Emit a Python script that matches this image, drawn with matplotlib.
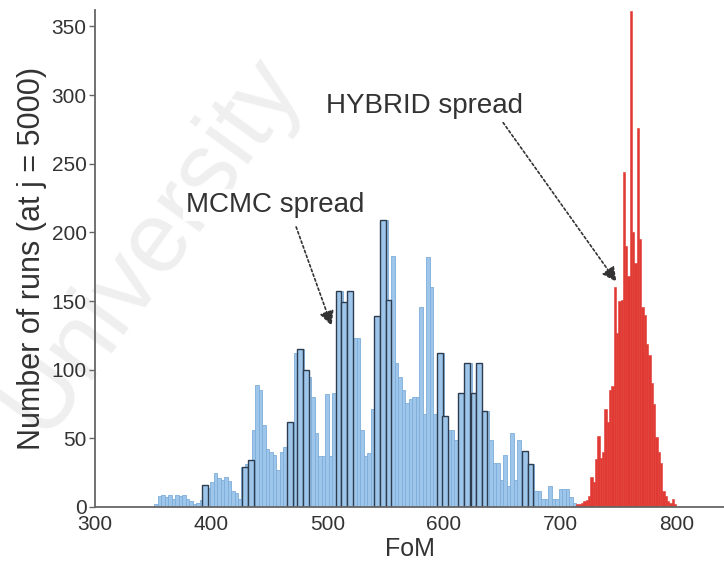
"""
Histogram of FoM for MCMC runs versus HYBRID runs (at j = 5000).
"""

import matplotlib
matplotlib.use("Agg")
import matplotlib.pyplot as plt
import numpy as np

plt.rcParams['font.family'] = ['Liberation Sans', 'DejaVu Sans']

#---------------------------------------
# Data
#---------------------------------------

# MCMC counts, 3-unit bins starting at FoM = 351
mcmc_start, mcmc_width = 351, 3
mcmc_counts = [
    2, 8, 9, 7, 9, 6, 9, 8, 9, 6,
    4, 2, 3, 5, 16, 14, 18, 25, 21, 20,
    22, 19, 12, 10, 6, 29, 31, 34, 56, 89,
    85, 60, 42, 40, 38, 27, 40, 44, 62, 62,
    112, 115, 115, 100, 95, 80, 54, 37, 37, 82,
    37, 83, 157, 157, 149, 149, 157, 123, 123, 56,
    37, 39, 71, 139, 139, 209, 209, 151, 183, 105,
    95, 85, 76, 79, 80, 80, 146, 68, 182, 160,
    68, 112, 112, 66, 56, 56, 49, 83, 83, 105,
    105, 83, 83, 105, 70, 70, 49, 32, 32, 20,
    38, 15, 54, 20, 49, 15, 41, 31, 31, 12,
    12, 6, 6, 15, 6, 6, 13, 13, 13, 7,
    3,
]

# coarser MCMC bins that show with a dark outline
outline_fom = [394.5, 429, 434, 467.5, 476.5, 481.5, 509.5, 514.5, 519.5,
               542.5, 548, 552.5, 596.5, 601, 614.5, 620, 625.5, 630.5,
               635, 669.5, 674.5]
outline_counts = [16, 29, 34, 62, 115, 100, 157, 149, 157,
                  139, 209, 151, 112, 66, 83, 105, 83, 105,
                  70, 41, 31]

# HYBRID counts, 2-unit bins starting at FoM = 712
hybrid_start, hybrid_width = 712, 2
hybrid_counts = [
    1, 2, 2, 3, 4, 5, 8, 22, 18, 35,
    52, 36, 40, 71, 62, 85, 88, 160, 127, 150,
    151, 244, 190, 168, 361, 200, 178, 276, 195, 146,
    140, 119, 111, 90, 75, 51, 40, 32, 12, 8,
    4, 3, 6, 2,
]

x_ticks = [300, 400, 500, 600, 700, 800]
y_ticks = [0, 50, 100, 150, 200, 250, 300, 350]

blue = [y/255 for y in (157, 198, 234)]
blue_edge = [y/255 for y in (125, 174, 218)]
dark = [y/255 for y in (45, 60, 78)]
red = [y/255 for y in (225, 58, 52)]

#------------------------------------------------------
# Plot
#------------------------------------------------------
fig = plt.figure(figsize=(7.24, 5.61), dpi=100)
ax = fig.add_axes([0.1312, 0.0963, 0.8688, 0.8859])
ax.patch.set_alpha(0)

mcmc_left = mcmc_start + mcmc_width * np.arange(len(mcmc_counts))
ax.bar(mcmc_left, mcmc_counts, width=mcmc_width, align='edge',
       color=blue, edgecolor=blue_edge, linewidth=0.6)
ax.bar(outline_fom, outline_counts, width=5, color=blue,
       edgecolor=dark, linewidth=1.0)

hybrid_left = hybrid_start + hybrid_width * np.arange(len(hybrid_counts))
ax.bar(hybrid_left, hybrid_counts, width=hybrid_width, align='edge',
       color=red, edgecolor=red, linewidth=0.4)

# Annotations
arrow = dict(arrowstyle='-|>', linestyle=(0, (1.5, 1.5)), color='#333333',
             lw=1.2, mutation_scale=22, shrinkA=0, shrinkB=0)
ax.annotate('', xy=(503.5, 132), xytext=(473, 204), arrowprops=arrow)
ax.annotate('', xy=(748.5, 164), xytext=(651, 280), arrowprops=arrow)
ax.text(455, 220, 'MCMC spread', fontsize=20, color='#333333',
        ha='center', va='center',
        bbox=dict(facecolor='white', edgecolor='none', pad=2))
ax.text(583, 292, 'HYBRID spread', fontsize=20, color='#333333',
        ha='center', va='center',
        bbox=dict(facecolor='white', edgecolor='none', pad=2))

# Faint watermark behind the axes
fig.text(0.06, 0.22, 'University', fontsize=72, color='#efefef',
         rotation=54, rotation_mode='anchor', ha='left', va='baseline',
         zorder=-1)

ax.set_xlim(300, 841)
ax.set_ylim(0, 362)
ax.set_xticks(x_ticks)
ax.set_yticks(y_ticks)
ax.set_xlabel('FoM', fontsize=18, color='#333333', labelpad=2)
ax.set_ylabel('Number of runs (at j = 5000)', fontsize=22, color='#333333',
              labelpad=3)

for side in ['top', 'right']:
    ax.spines[side].set_visible(False)
for side in ['left', 'bottom']:
    ax.spines[side].set_color('#666666')
    ax.spines[side].set_linewidth(1.3)

ax.tick_params(axis='y', direction='out', length=4, width=1, colors='#666666',
               labelcolor='#333333', labelsize=15, pad=2)
ax.tick_params(axis='x', length=0, labelcolor='#333333', labelsize=15, pad=6)

plt.savefig('out.png', dpi=100)
